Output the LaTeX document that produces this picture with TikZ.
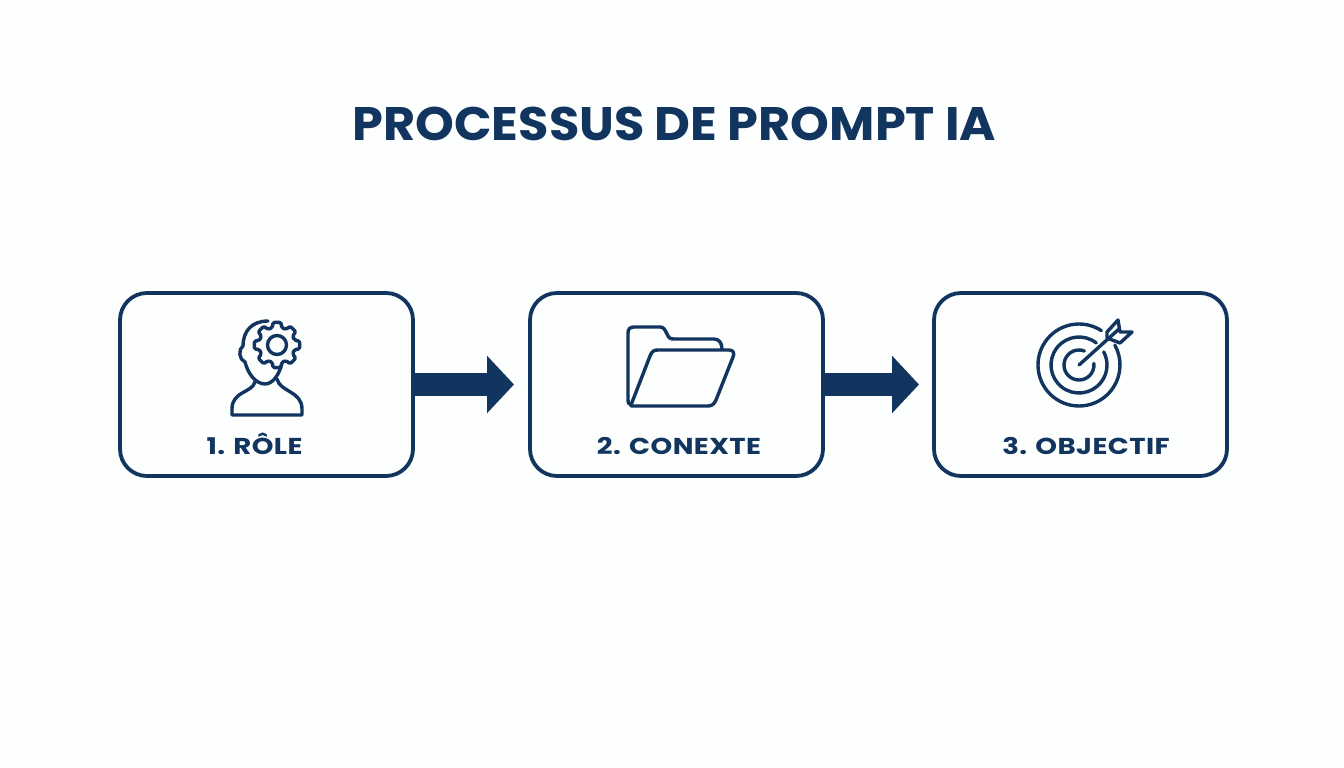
\documentclass[tikz,border=0pt]{standalone}
\usepackage{fontspec}
\setmainfont{Poppins}
\newfontfamily\titlefont[FakeStretch=1.05]{Poppins}
\newfontfamily\labelfont[FakeStretch=1.2,LetterSpace=1.8]{Poppins}
\usetikzlibrary{arrows.meta}
\definecolor{navy}{HTML}{12355F}
\definecolor{paper}{HTML}{FDFEFE}
\tikzset{
  stepbox/.style={draw=navy, line width=3.8pt, rounded corners=27pt, minimum width=293pt, minimum height=183pt, inner sep=0pt, outer sep=0pt},
  steplabel/.style={text=navy, font=\fontsize{23}{25}\labelfont\bfseries, anchor=base, inner sep=0pt},
  flow/.style={draw=navy, line width=22.5pt, -{Triangle[width=56pt,length=27pt]}},
  icon/.style={draw=navy, line width=3.4pt, line cap=round, line join=round},
}
\begin{document}
\begin{tikzpicture}[x=1pt,y=-1pt]
    \fill[paper] (0,0) rectangle (1344,768);
    \useasboundingbox (0,0) rectangle (1344,768);
    \node[text=navy, font=\fontsize{47}{50}\titlefont\bfseries, anchor=base, inner sep=0pt] (title) at (674.5,140.5) {PROCESSUS DE PROMPT IA};
    \node[stepbox] (role) at (266.5,384.5) {};
    \node[stepbox] (contexte) at (676.5,384.5) {};
    \node[stepbox] (objectif) at (1080.5,384.5) {};
    \node[steplabel] (rolelabel) at (254.5,454) {1. RÔLE};
    \node[steplabel] (contextelabel) at (679,454) {2. CONEXTE};
    \node[steplabel] (objectiflabel) at (1086,454) {3. OBJECTIF};
    \draw[flow, shorten >=16pt] (role.east) -- (contexte.west);
    \draw[flow, shorten >=15pt] (contexte.east) -- (objectif.west);
    % person
    \draw[icon] (268,321) .. controls (252,321) and (243,331) .. (243,346)
        .. controls (238,349) and (239,360) .. (245,362)
        .. controls (248,374) and (256,384) .. (265,384)
        .. controls (272,384) and (279,376) .. (282,363);
    \draw[icon] (255,382) .. controls (252,393) and (232,391) .. (232,409) -- (232,415) -- (302,415) -- (302,409)
        .. controls (302,391) and (280,392) .. (277,379);
    % gear
    \begin{scope}[shift={(277,345)}]
      \fill[paper] (0,0) circle (20);
      \draw[icon, rounded corners=1.5pt] (-15:18) \foreach \a in {0,45,...,315} {
          -- (\a-15:18) -- (\a-10:23) -- (\a+10:23) -- (\a+15:18) } -- cycle;
      \draw[icon] (0,0) circle (9.5);
    \end{scope}
    % folder
    \draw[icon] (631,405) .. controls (628,404) and (628,402) .. (628,400) -- (628,333)
        .. controls (628,329) and (630,327) .. (634,327) -- (660,327)
        .. controls (664,327) and (665,330) .. (667,334)
        .. controls (669,338) and (670,339) .. (674,339) -- (714,339)
        .. controls (719,339) and (722,343) .. (722,349);
    \draw[icon] (631,405) -- (650,356) .. controls (652,351) and (654,350) .. (658,350) -- (729,350)
        .. controls (733,350) and (735,353) .. (733,357) -- (716,400)
        .. controls (714,404) and (712,406) .. (708,406) -- (631,406);
    % target
    \draw[icon] (1079,365) ++(-57:41) arc[start angle=-57, end angle=-389, radius=41];
    \draw[icon] (1079,365) ++(-52:28) arc[start angle=-52, end angle=-388, radius=28];
    \draw[icon] (1079,365) ++(-69:15) arc[start angle=-69, end angle=-366, radius=15];
    \draw[icon] (1079,365) -- (1119,329);
    \draw[icon] (1107,338) -- (1107,332) -- (1118,320) -- (1120,332) -- (1132,332) -- (1120,343) -- cycle;
\end{tikzpicture}
\end{document}
